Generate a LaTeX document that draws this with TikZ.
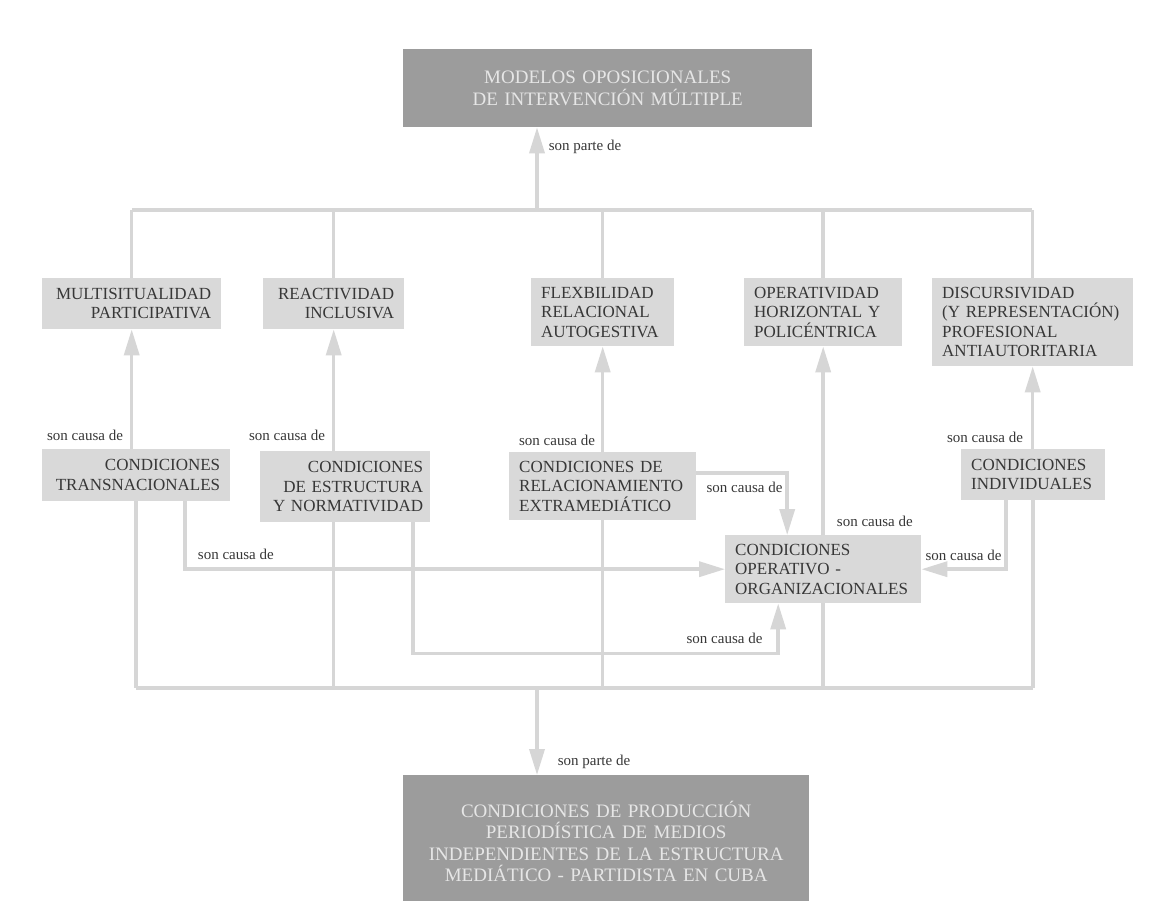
\documentclass[tikz,border=0pt]{standalone}
\usepackage{fontspec}
\setmainfont{Liberation Serif}
\usetikzlibrary{arrows.meta}
\definecolor{boxgray}{RGB}{217,217,217}
\definecolor{linegray}{RGB}{214,214,214}
\definecolor{darkbox}{RGB}{156,156,156}
\definecolor{darktext}{RGB}{230,230,230}
\definecolor{txtgray}{RGB}{55,55,55}
\hyphenpenalty=10000

\begin{document}
\begin{tikzpicture}[x=1pt,y=-1pt,
    box/.style={fill=boxgray,text=txtgray,anchor=north west,inner xsep=10pt,inner ysep=0pt,font=\fontsize{17}{19.5}\selectfont},
    bigbox/.style={fill=darkbox,text=darktext,anchor=north west,inner sep=0pt,align=center,font=\fontsize{19}{21.5}\selectfont},
    lbl/.style={text=txtgray,inner sep=0pt,font=\fontsize{15}{17}\selectfont},
    conn/.style={draw=linegray,line width=3.5pt},
    arr/.style={conn,-{Triangle[length=26pt,width=15pt]}}]
      \path[use as bounding box,fill=white] (0,0) rectangle (1159,901);
      \node[bigbox,text width=409pt,minimum height=78pt] (mod) at (403,49) {MODELOS OPOSICIONALES\\DE INTERVENCIÓN MÚLTIPLE};
      \node[box,text width=159pt,minimum height=51pt,align=right] (multi) at (42,278) {MULTISITUALIDAD\\PARTICIPATIVA};
      \node[box,text width=121pt,minimum height=51pt,align=right] (reac) at (263,278) {REACTIVIDAD\\INCLUSIVA};
      \node[box,text width=123pt,minimum height=68pt,align=left] (flex) at (531,278) {FLEXBILIDAD\\RELACIONAL\\AUTOGESTIVA};
      \node[box,text width=138pt,minimum height=68pt,align=left] (oper) at (744,278) {OPERATIVIDAD\\HORIZONTAL Y\\POLICÉNTRICA};
      \node[box,text width=181pt,minimum height=88pt,align=left] (disc) at (932,278) {DISCURSIVIDAD\\(Y REPRESENTACIÓN)\\PROFESIONAL\\ANTIAUTORITARIA};
      \node[box,text width=168pt,minimum height=52pt,align=right] (trans) at (42,449) {CONDICIONES\\TRANSNACIONALES};
      \node[box,text width=156pt,inner xsep=7pt,minimum height=71pt,align=right] (estr) at (260,451) {CONDICIONES\\DE ESTRUCTURA\\Y NORMATIVIDAD};
      \node[box,text width=167pt,minimum height=68pt,align=left] (rel) at (509,452) {CONDICIONES DE\\RELACIONAMIENTO\\EXTRAMEDIÁTICO};
      \node[box,text width=124pt,minimum height=51pt,align=left] (ind) at (961,449) {CONDICIONES\\INDIVIDUALES};
      \node[box,text width=176pt,minimum height=68pt,align=left] (org) at (725,535) {CONDICIONES\\OPERATIVO -\\ORGANIZACIONALES};
      \node[bigbox,text width=406pt,minimum height=132pt] (prod) at (403,775) {CONDICIONES DE PRODUCCIÓN\\PERIODÍSTICA DE MEDIOS\\INDEPENDIENTES DE LA ESTRUCTURA\\MEDIÁTICO - PARTIDISTA EN CUBA};
      \coordinate (tl) at (132,210); \coordinate (tr) at (1032,210); \coordinate (tm) at (537,210);
      \coordinate (bl) at (136,688); \coordinate (br) at (1033,688); \coordinate (bm) at (537,688);
      \draw[conn] (tl) -- (tr);
      \foreach \n in {multi,reac,flex,oper,disc}
        \draw[conn] (\n.north) -- (\n.north |- tl);
      \draw[arr] (tm) -- (tm |- mod.south) node[lbl,anchor=base west,xshift=10pt,yshift=-23pt] {son parte de};
      \draw[arr] (trans.north -| multi.south) node[lbl,anchor=base east,xshift=-7pt,yshift=9pt] {son causa de} -- (multi.south);
      \draw[arr] (estr.north -| reac.south) node[lbl,anchor=base east,xshift=-7pt,yshift=11pt] {son causa de} -- (reac.south);
      \draw[arr] (rel.north -| flex.south) node[lbl,anchor=base east,xshift=-6pt,yshift=7pt] {son causa de} -- (flex.south);
      \draw[arr] (ind.north -| disc.south) node[lbl,anchor=base east,xshift=-8pt,yshift=7pt] {son causa de} -- (disc.south);
      \draw[arr] (org.north) node[lbl,anchor=base west,xshift=12pt,yshift=9pt] {son causa de} -- (oper.south);
      \draw[arr] ([xshift=49pt]trans.south) |- node[lbl,anchor=base west,pos=.5,xshift=11pt,yshift=10pt] {son causa de} (org.west);
      \draw[arr] ([xshift=68pt]estr.south) -- ++(0,131) -| node[lbl,anchor=base east,pos=.5,xshift=-14pt,yshift=10pt] {son causa de} ([xshift=-45pt]org.south);
      \draw[arr] ([yshift=13pt]rel.east) -| node[lbl,anchor=base east,pos=.5,xshift=-3pt,yshift=-19pt] {son causa de} ([xshift=-36pt]org.north);
      \draw[arr] ([xshift=-27pt]ind.south) |- node[lbl,anchor=base east,pos=.5,xshift=-3pt,yshift=9pt] {son causa de} (org.east);
      \draw[conn] (bl) -- (br);
      \foreach \n in {trans,rel,org,ind}
        \draw[conn] (\n.south) -- (\n.south |- bl);
      \draw[conn] (estr.south -| reac.south) -- (reac.south |- bl);
      \draw[arr] (bm) -- (bm |- prod.north) node[lbl,anchor=base west,xshift=19pt,yshift=10pt] {son parte de};
    \end{tikzpicture}
\end{document}
